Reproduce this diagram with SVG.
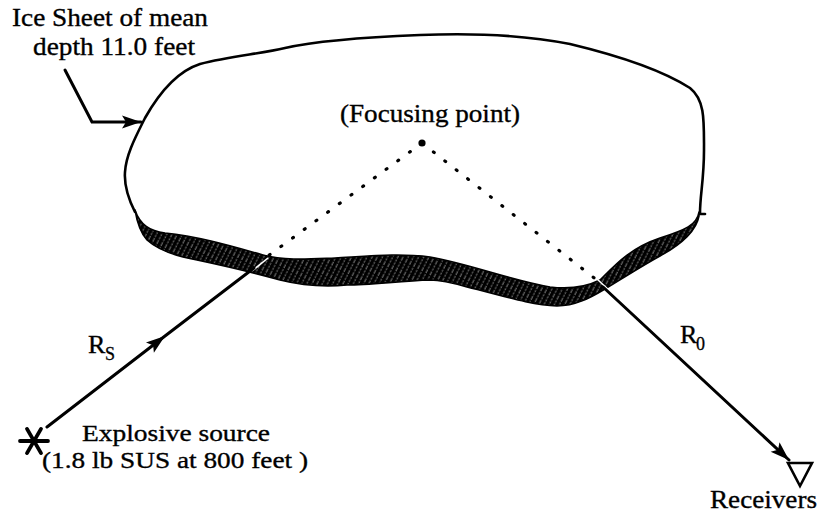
<svg xmlns="http://www.w3.org/2000/svg" width="820" height="513" viewBox="0 0 820 513">
  <style>
    .lbl { font-family: "Liberation Serif", "Times New Roman", serif; font-size: 26px; fill: #000; stroke: #000; stroke-width: 0.35; }
    .sm { font-size: 24px; }
    .sub { font-family: "Liberation Serif", "Times New Roman", serif; font-size: 18px; fill: #000; stroke: #000; stroke-width: 0.3; }
    .outline { fill: none; stroke: #000; stroke-width: 2.6; stroke-linejoin: round; stroke-linecap: round; }
    .ray { fill: none; stroke: #000; stroke-width: 3; stroke-linecap: round; }
    .dots { fill: none; stroke: #000; stroke-width: 3.2; stroke-linecap: round; stroke-dasharray: 1 13.5; }
    .gap { stroke: #fff; stroke-width: 1.6; }
  </style>
  <defs>
    <!-- fine white slanted hatching on a black ground for the ice edge -->
    <pattern id="hatch" patternUnits="userSpaceOnUse" width="4.6" height="12" patternTransform="rotate(27)">
      <rect width="4.6" height="12" fill="#000"/>
      <line x1="2" y1="0" x2="2" y2="12" stroke="#fff" stroke-width="0.55" stroke-dasharray="2 1.3"/>
    </pattern>
    <marker id="arrow" markerUnits="userSpaceOnUse" markerWidth="24" markerHeight="16" viewBox="-20 -8 22 16" refX="0" refY="0" orient="auto">
      <path d="M0,0 L-19,-6.5 L-15,0 L-19,6.5 Z" fill="#000"/>
    </marker>
  </defs>

  <!-- ice sheet -->
  <g id="ice-sheet">
    <path class="outline" d="M135,212 C128,198 124,185 125,172 C126,155 135,138 145,118 C158,95 175,72 200,64 C230,56 260,54 285,48 C320,40 370,37 420,35 C470,33 520,34 570,44 C620,56 665,72 690,88 C705,100 704,120 704,150 C704,180 700,195 700,213"/>
    <line class="outline" x1="700" y1="214" x2="705" y2="214"/>
    <path fill="url(#hatch)" stroke="#000" stroke-width="1.6" stroke-linejoin="round"
          d="M135,210 C140,225 150,231 165,233 C195,236 225,244 263,255 C285,261 310,259 335,258 C370,256 400,253 430,257 C470,264 510,280 550,287 C575,290 590,285 600,280 C615,265 630,248 660,238 C685,230 697,225 699,212 L699,216 C696,232 680,245 660,256 C640,267 620,280 605,289 C590,298 575,306 557,306 C530,305 500,295 467,287 C450,282 440,280 430,280 C400,281 370,285 347,285 C325,287 300,285 280,280 C255,273 225,266 197,260 C175,256 158,250 147,240 C140,232 137,222 135,210 Z"/>
    <!-- ray crossings through the edge -->
    <line class="gap" x1="252" y1="271" x2="268" y2="258"/>
    <line class="gap" x1="597" y1="279" x2="611" y2="292"/>
  </g>

  <g id="ice-label">
    <text class="lbl" x="12" y="26" textLength="196" lengthAdjust="spacingAndGlyphs">Ice Sheet of mean</text>
    <text class="lbl" x="33" y="55" textLength="162" lengthAdjust="spacingAndGlyphs">depth 11.0 feet</text>
  </g>

  <g id="focus">
    <circle cx="422" cy="143" r="3.6" fill="#000"/>
    <text class="lbl" x="340" y="122" textLength="180" lengthAdjust="spacingAndGlyphs">(Focusing point)</text>
  </g>

  <g id="source">
    <g stroke="#000" stroke-width="3.8" stroke-linecap="round">
      <line x1="20" y1="441" x2="48" y2="441"/>
      <line x1="27" y1="428.9" x2="41" y2="453.1"/>
      <line x1="27" y1="453.1" x2="41" y2="428.9"/>
    </g>
    <text class="lbl sm" x="82" y="441" textLength="188" lengthAdjust="spacingAndGlyphs">Explosive source</text>
    <text class="lbl sm" x="42" y="468" textLength="266" lengthAdjust="spacingAndGlyphs">(1.8 lb SUS at 800 feet )</text>
  </g>

  <g id="receivers">
    <path d="M788,463 L812,463 L800,486 Z" fill="none" stroke="#000" stroke-width="2.6" stroke-linejoin="miter"/>
    <text class="lbl" x="710" y="508" textLength="107" lengthAdjust="spacingAndGlyphs">Receivers</text>
  </g>

  <g id="connectors">
    <!-- leader to the ice sheet -->
    <path class="ray" stroke-width="2.6" d="M65,70 L92,122 L141,122" marker-end="url(#arrow)"/>
    <!-- incident ray R_S -->
    <path class="ray" d="M47,427 L165,336 L254,268" marker-mid="url(#arrow)"/>
    <!-- outgoing ray R_0 -->
    <path class="ray" d="M603,287 L789,460" marker-end="url(#arrow)"/>
    <!-- paths through the ice to the focusing point -->
    <path class="dots" d="M422,143 L268,256"/>
    <path class="dots" d="M422,143 L598,281"/>
  </g>

  <g id="ray-labels">
    <text class="lbl" x="88" y="353">R</text>
    <text class="sub" x="105" y="360">S</text>
    <text class="lbl" x="680" y="343">R</text>
    <text class="sub" x="696" y="350">0</text>
  </g>
</svg>
